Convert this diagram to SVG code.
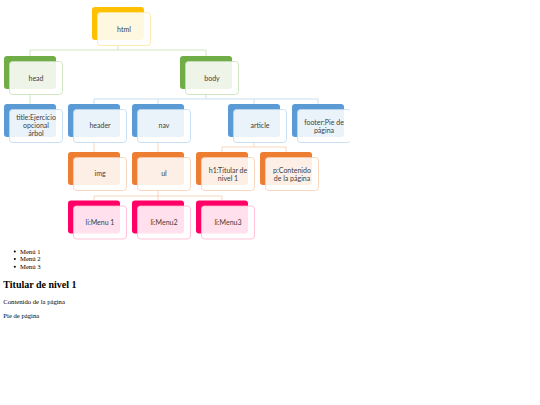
<svg xmlns="http://www.w3.org/2000/svg" width="540" height="405" viewBox="0 0 540 405">
<defs>
<style>
.bk{stroke:none}
.fr{fill:#ffffff;fill-opacity:0.88;stroke-width:0.8}
.t{font-family:Lato,"Open Sans",sans-serif;font-size:7px;fill:#404040;text-anchor:middle}
.c{fill:none;stroke-width:0.8}
.g{stroke:#c5e0b4}
.b{stroke:#bdd7ee}
.o{stroke:#f8cbad}
.y .bk{fill:#ffc000}.y .fr{stroke:#ffe699}
.gr .bk{fill:#70ad47}.gr .fr{stroke:#c5e0b4}
.bl .bk{fill:#5b9bd5}.bl .fr{stroke:#bdd7ee}
.or .bk{fill:#ed7d31}.or .fr{stroke:#f8cbad}
.pk .bk{fill:#ff0066}.pk .fr{stroke:#ffb3cf}
.s{font-family:"Liberation Serif","Times New Roman",serif;fill:#000}
</style>
<clipPath id="clip"><rect x="0" y="0" width="349.5" height="250"/></clipPath>
</defs>
<rect width="540" height="405" fill="#ffffff"/>
<g clip-path="url(#clip)">
<g id="connectors">
<path class="c g" d="M118 46V50M30 50H206M30 50V56M206 50V56"/>
<path class="c g" d="M30 94V104"/>
<path class="c b" d="M206 94V99M94 99H318M94 99V104M158 99V104M254 99V104M318 99V104"/>
<path class="c o" d="M94 142V152M158 142V152"/>
<path class="c o" d="M254 142V147M222 147H286M222 147V152M286 147V152"/>
<path class="c o" d="M158 190V196M94 196H222M94 196V200.5M158 196V200.5M222 196V200.5"/>
</g>
<g id="html" class="y"><rect class="bk" x="92" y="7" width="52" height="33" rx="3"/><rect class="fr" x="97.5" y="12.5" width="53" height="33" rx="3"/><text class="t" x="124" y="31.5">html</text></g>
<g id="head" class="gr"><rect class="bk" x="4" y="56" width="52" height="33" rx="3"/><rect class="fr" x="9.5" y="61.5" width="53" height="33" rx="3"/><text class="t" x="36" y="80.5">head</text></g>
<g id="body" class="gr"><rect class="bk" x="180" y="56" width="52" height="33" rx="3"/><rect class="fr" x="185.5" y="61.5" width="53" height="33" rx="3"/><text class="t" x="212" y="80.5">body</text></g>
<g id="title" class="bl"><rect class="bk" x="4" y="104" width="52" height="33" rx="3"/><rect class="fr" x="9.5" y="109.5" width="53" height="33" rx="3"/><text class="t" x="36" y="119.8">title:Ejercicio</text><text class="t" x="36" y="128.1">opcional</text><text class="t" x="36" y="136.4">árbol</text></g>
<g id="header" class="bl"><rect class="bk" x="68" y="104" width="52" height="33" rx="3"/><rect class="fr" x="73.5" y="109.5" width="53" height="33" rx="3"/><text class="t" x="100" y="128.3">header</text></g>
<g id="nav" class="bl"><rect class="bk" x="132" y="104" width="52" height="33" rx="3"/><rect class="fr" x="137.5" y="109.5" width="53" height="33" rx="3"/><text class="t" x="164" y="128.3">nav</text></g>
<g id="article" class="bl"><rect class="bk" x="228" y="104" width="52" height="33" rx="3"/><rect class="fr" x="233.5" y="109.5" width="53" height="33" rx="3"/><text class="t" x="260" y="128.3">article</text></g>
<g id="footer" class="bl"><rect class="bk" x="292" y="104" width="52" height="33" rx="3"/><rect class="fr" x="297.5" y="109.5" width="53" height="33" rx="3"/><text class="t" x="324" y="124.5">footer:Pie de</text><text class="t" x="324" y="132.8">página</text></g>
<g id="img" class="or"><rect class="bk" x="68" y="152" width="52" height="33" rx="3"/><rect class="fr" x="73.5" y="157.5" width="53" height="33" rx="3"/><text class="t" x="100" y="176.3">img</text></g>
<g id="ul" class="or"><rect class="bk" x="132" y="152" width="52" height="33" rx="3"/><rect class="fr" x="137.5" y="157.5" width="53" height="33" rx="3"/><text class="t" x="164" y="176.3">ul</text></g>
<g id="h1" class="or"><rect class="bk" x="196" y="152" width="52" height="33" rx="3"/><rect class="fr" x="201.5" y="157.5" width="53" height="33" rx="3"/><text class="t" x="228" y="172.5">h1:Titular de</text><text class="t" x="228" y="180.8">nivel 1</text></g>
<g id="p" class="or"><rect class="bk" x="260" y="152" width="52" height="33" rx="3"/><rect class="fr" x="265.5" y="157.5" width="53" height="33" rx="3"/><text class="t" x="292" y="172.5">p:Contenido</text><text class="t" x="292" y="180.8">de la página</text></g>
<g id="li1" class="pk"><rect class="bk" x="68" y="200.5" width="52" height="33" rx="3"/><rect class="fr" x="73.5" y="206" width="53" height="33" rx="3"/><text class="t" x="100" y="224.8">li:Menu 1</text></g>
<g id="li2" class="pk"><rect class="bk" x="132" y="200.5" width="52" height="33" rx="3"/><rect class="fr" x="137.5" y="206" width="53" height="33" rx="3"/><text class="t" x="164" y="224.8">li:Menu2</text></g>
<g id="li3" class="pk"><rect class="bk" x="196" y="200.5" width="52" height="33" rx="3"/><rect class="fr" x="201.5" y="206" width="53" height="33" rx="3"/><text class="t" x="228" y="224.8">li:Menu3</text></g>
</g>
<g id="page">
<circle cx="14.8" cy="251.4" r="1"/>
<circle cx="14.8" cy="259.1" r="1"/>
<circle cx="14.8" cy="266.7" r="1"/>
<text class="s" x="20" y="253.6" font-size="6.67">Menú 1</text>
<text class="s" x="20" y="261.3" font-size="6.67">Menú 2</text>
<text class="s" x="20" y="268.9" font-size="6.67">Menú 3</text>
<text class="s" x="3.33" y="288.3" font-size="10" font-weight="bold">Titular de nivel 1</text>
<text class="s" x="3.33" y="304.3" font-size="6.67">Contenido de la página</text>
<text class="s" x="3.33" y="318" font-size="6.67">Pie de página</text>
</g>
</svg>
